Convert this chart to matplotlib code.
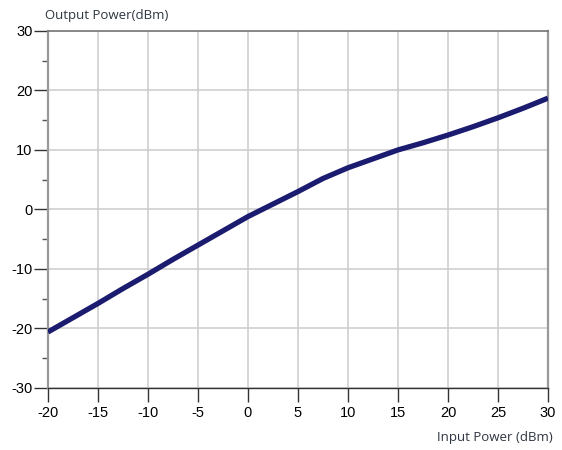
import matplotlib
matplotlib.use('Agg')
import matplotlib.pyplot as plt
import numpy as np

# data
input_power = [-20, -17.5, -15, -12.5, -10, -7.5, -5, -2.5, 0, 2.5, 5, 7.5,
               10, 12.5, 15, 17.5, 20, 22.5, 25, 27.5, 30]
output_power = [-20.6, -18.2, -15.8, -13.3, -10.9, -8.4, -6.0, -3.6, -1.2, 0.9, 3.0, 5.2,
                7.0, 8.5, 10.0, 11.2, 12.5, 13.9, 15.4, 17.0, 18.7]

x_ticks = [-20, -15, -10, -5, 0, 5, 10, 15, 20, 25, 30]
y_ticks = [-30, -20, -10, 0, 10, 20, 30]
y_minor = [-25, -15, -5, 5, 15, 25]

fig = plt.figure(figsize=(5.62, 4.5), dpi=100)
ax = fig.add_axes([0.0854, 0.138, 0.8896, 0.7932])

ax.plot(input_power, output_power, color='#1b1b6f', lw=3.8, solid_capstyle='butt', zorder=3)

ax.set_xlim(-20, 30)
ax.set_ylim(-30, 30)
ax.set_xticks(x_ticks)
ax.set_yticks(y_ticks)
ax.set_yticks(y_minor, minor=True)
ax.set_xticklabels([str(v) for v in x_ticks])
ax.set_yticklabels([str(v) for v in y_ticks])

ax.grid(True, which='major', color='#cccccc', lw=1.1, zorder=0)
ax.tick_params(axis='both', which='major', direction='out', length=10, width=1,
               color='#333333', labelsize=10.5, labelcolor='black')
ax.tick_params(axis='y', which='major', pad=1)
ax.tick_params(axis='x', which='major', pad=3)
ax.tick_params(axis='y', which='minor', direction='out', length=4.3, width=1, color='#555555')
for lbl in ax.get_xticklabels() + ax.get_yticklabels():
    lbl.set_family('Liberation Sans')

ax.spines['left'].set_color('#999999')
ax.spines['left'].set_linewidth(1.6)
ax.spines['right'].set_color('#999999')
ax.spines['right'].set_linewidth(1.6)
ax.spines['top'].set_color('#777777')
ax.spines['top'].set_linewidth(1.2)
ax.spines['bottom'].set_color('#333333')
ax.spines['bottom'].set_linewidth(1)

fig.text(45 / 562, 1 - 16 / 450, 'Output Power(dBm)', ha='left', va='center',
         fontsize=9.5, color='#2d3540', family='Open Sans')
fig.text(553 / 562, 1 - 438 / 450, 'Input Power (dBm)', ha='right', va='center',
         fontsize=9.5, color='#2d3540', family='Open Sans')

fig.savefig('out.png', dpi=100)
